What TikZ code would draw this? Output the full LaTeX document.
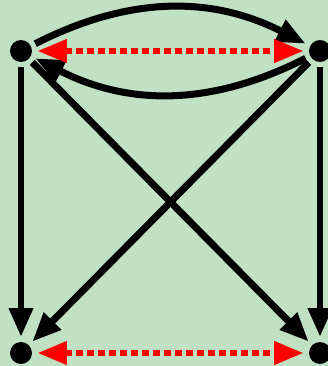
\documentclass[tikz,border=0pt]{standalone}
\usetikzlibrary{arrows.meta}
\definecolor{bgGreen}{RGB}{193,225,197}
\begin{document}
\begin{tikzpicture}[x=0.02cm,y=0.02cm,
  dot/.style={circle,fill=black,minimum size=0.44cm,inner sep=0pt,outer sep=0.1cm},
  edge/.style={line width=0.14cm,draw=black,-{Triangle[length=0.58cm,width=0.46cm]}},
  twin/.style={line width=0.14cm,draw=red,dash pattern=on 0.14cm off 0.08cm,
    {Triangle[length=0.6cm,width=0.44cm]}-{Triangle[length=0.6cm,width=0.44cm]}}]
\fill[bgGreen] (0,0) rectangle (328,366);
\useasboundingbox (0,0) rectangle (328,366);
\node[dot] (tl) at (21,315) {};
\node[dot] (tr) at (320,315) {};
\node[dot] (bl) at (21,13) {};
\node[dot] (br) at (320,13) {};

\draw[edge] (tl) to[bend left=27] (tr);
\draw[edge] (tr) to[bend left=27] (tl);
\draw[edge] (tl) -- (bl);
\draw[edge] (tr) -- (br);
\draw[edge] (tl) -- (br);
\draw[edge] (tr) -- (bl);

\draw[twin] (tl) -- (tr);
\draw[twin] (bl) -- (br);
\end{tikzpicture}
\end{document}
